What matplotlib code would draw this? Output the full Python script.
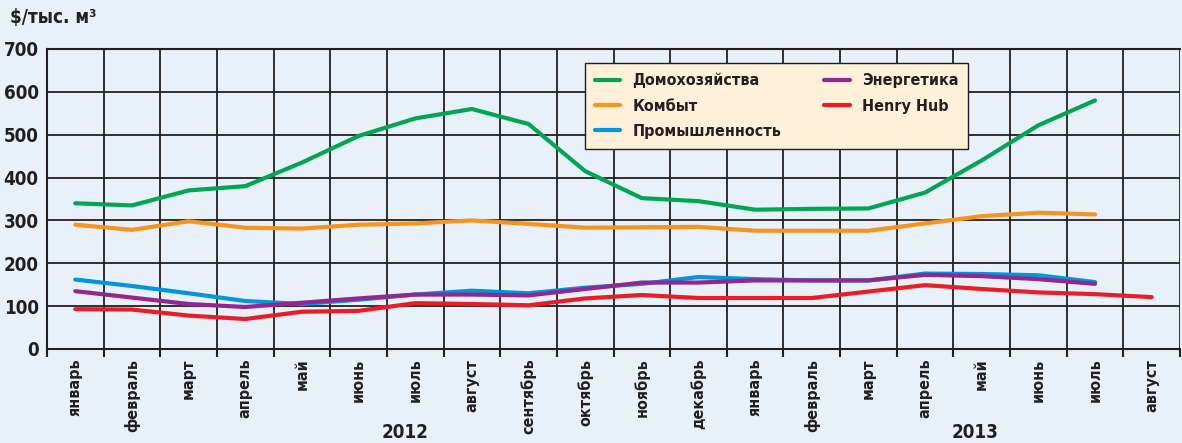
import numpy as np
import matplotlib.pyplot as plt

plt.rcParams['font.family'] = ['DejaVu Sans']
plt.rcParams['font.stretch'] = 'condensed'
plt.rcParams['font.weight'] = 'bold'

months = ['январь', 'февраль', 'март', 'апрель', 'май', 'июнь', 'июль', 'август',
          'сентябрь', 'октябрь', 'ноябрь', 'декабрь',
          'январь', 'февраль', 'март', 'апрель', 'май', 'июнь', 'июль', 'август']

households = [340, 335, 370, 380, 435, 497, 538, 560, 525, 415, 352, 345,
              325, 327, 328, 365, 440, 522, 580]
kombyt = [290, 278, 298, 283, 281, 290, 293, 300, 292, 283, 284, 285,
          276, 276, 276, 293, 310, 318, 314]
industry = [162, 147, 130, 112, 105, 115, 127, 136, 130, 143, 152, 168,
            163, 160, 160, 176, 175, 172, 156]
energy = [135, 120, 105, 98, 108, 118, 127, 127, 125, 140, 155, 155,
          160, 160, 160, 173, 170, 163, 152]
henry_hub = [93, 92, 78, 70, 87, 89, 107, 105, 102, 118, 126, 119,
             119, 119, 134, 149, 140, 132, 128, 121]

series = [
    ('Домохозяйства', households, '#00A651'),
    ('Комбыт', kombyt, '#F7941D'),
    ('Промышленность', industry, '#0096DB'),
    ('Энергетика', energy, '#92278F'),
    ('Henry Hub', henry_hub, '#ED1C24'),
]

ink = '#231F20'
bg = '#E8F1F9'
fig = plt.figure(figsize=(11.82, 4.43), dpi=100, facecolor=bg)
ax = fig.add_axes([47/1182, 1-349/443, 1133/1182, 300/443], facecolor=bg)

for name, vals, col in series:
    ax.plot(np.arange(len(vals)), vals, color=col, lw=3, label=name, zorder=3,
            solid_capstyle='round')

ax.set_xlim(-0.5, len(months)-0.5)
ax.set_ylim(0, 700)
ax.set_yticks(range(0, 701, 100))
ax.set_xticks(np.arange(len(months)))
ax.set_xticklabels(months, rotation=90, fontsize=11.5, fontweight='bold', color=ink)
ax.set_xticks(np.arange(len(months)+1)-0.5, minor=True)
ax.tick_params(axis='x', which='major', length=0, pad=7)
ax.tick_params(axis='x', which='minor', length=6, width=1.5, color=ink)
ax.tick_params(axis='y', length=0, pad=6, labelsize=13.5, labelcolor=ink)
for t in ax.get_yticklabels():
    t.set_fontweight('bold')

ax.grid(True, which='minor', axis='x', color=ink, lw=1.3, zorder=1)
ax.grid(True, which='major', axis='y', color=ink, lw=1.3, zorder=1)
for s in ax.spines.values():
    s.set_color(ink)
    s.set_linewidth(1.5)
ax.spines['right'].set_visible(False)

leg = ax.legend(ncol=2, loc='upper left', bbox_to_anchor=(0.475, 0.953),
                borderaxespad=0, fontsize=11.5, frameon=True, fancybox=False,
                handlelength=1.6, handletextpad=0.75, columnspacing=2.7,
                labelspacing=0.65, borderpad=0.6)
leg.get_frame().set_facecolor('#FFF0D9')
leg.get_frame().set_edgecolor(ink)
leg.get_frame().set_alpha(1)
leg.set_zorder(5)
for t in leg.get_texts():
    t.set_fontweight('bold')
    t.set_color(ink)

fig.text(10/1182, 1-18/443, '$/тыс. м³', fontsize=13.5, fontweight='bold',
         color=ink, va='center')
fig.text(405/1182, 1-433/443, '2012', fontsize=13.5, fontweight='bold',
         color=ink, ha='center', va='center')
fig.text(975/1182, 1-433/443, '2013', fontsize=13.5, fontweight='bold',
         color=ink, ha='center', va='center')

fig.savefig('out.png', dpi=100, facecolor=bg)
